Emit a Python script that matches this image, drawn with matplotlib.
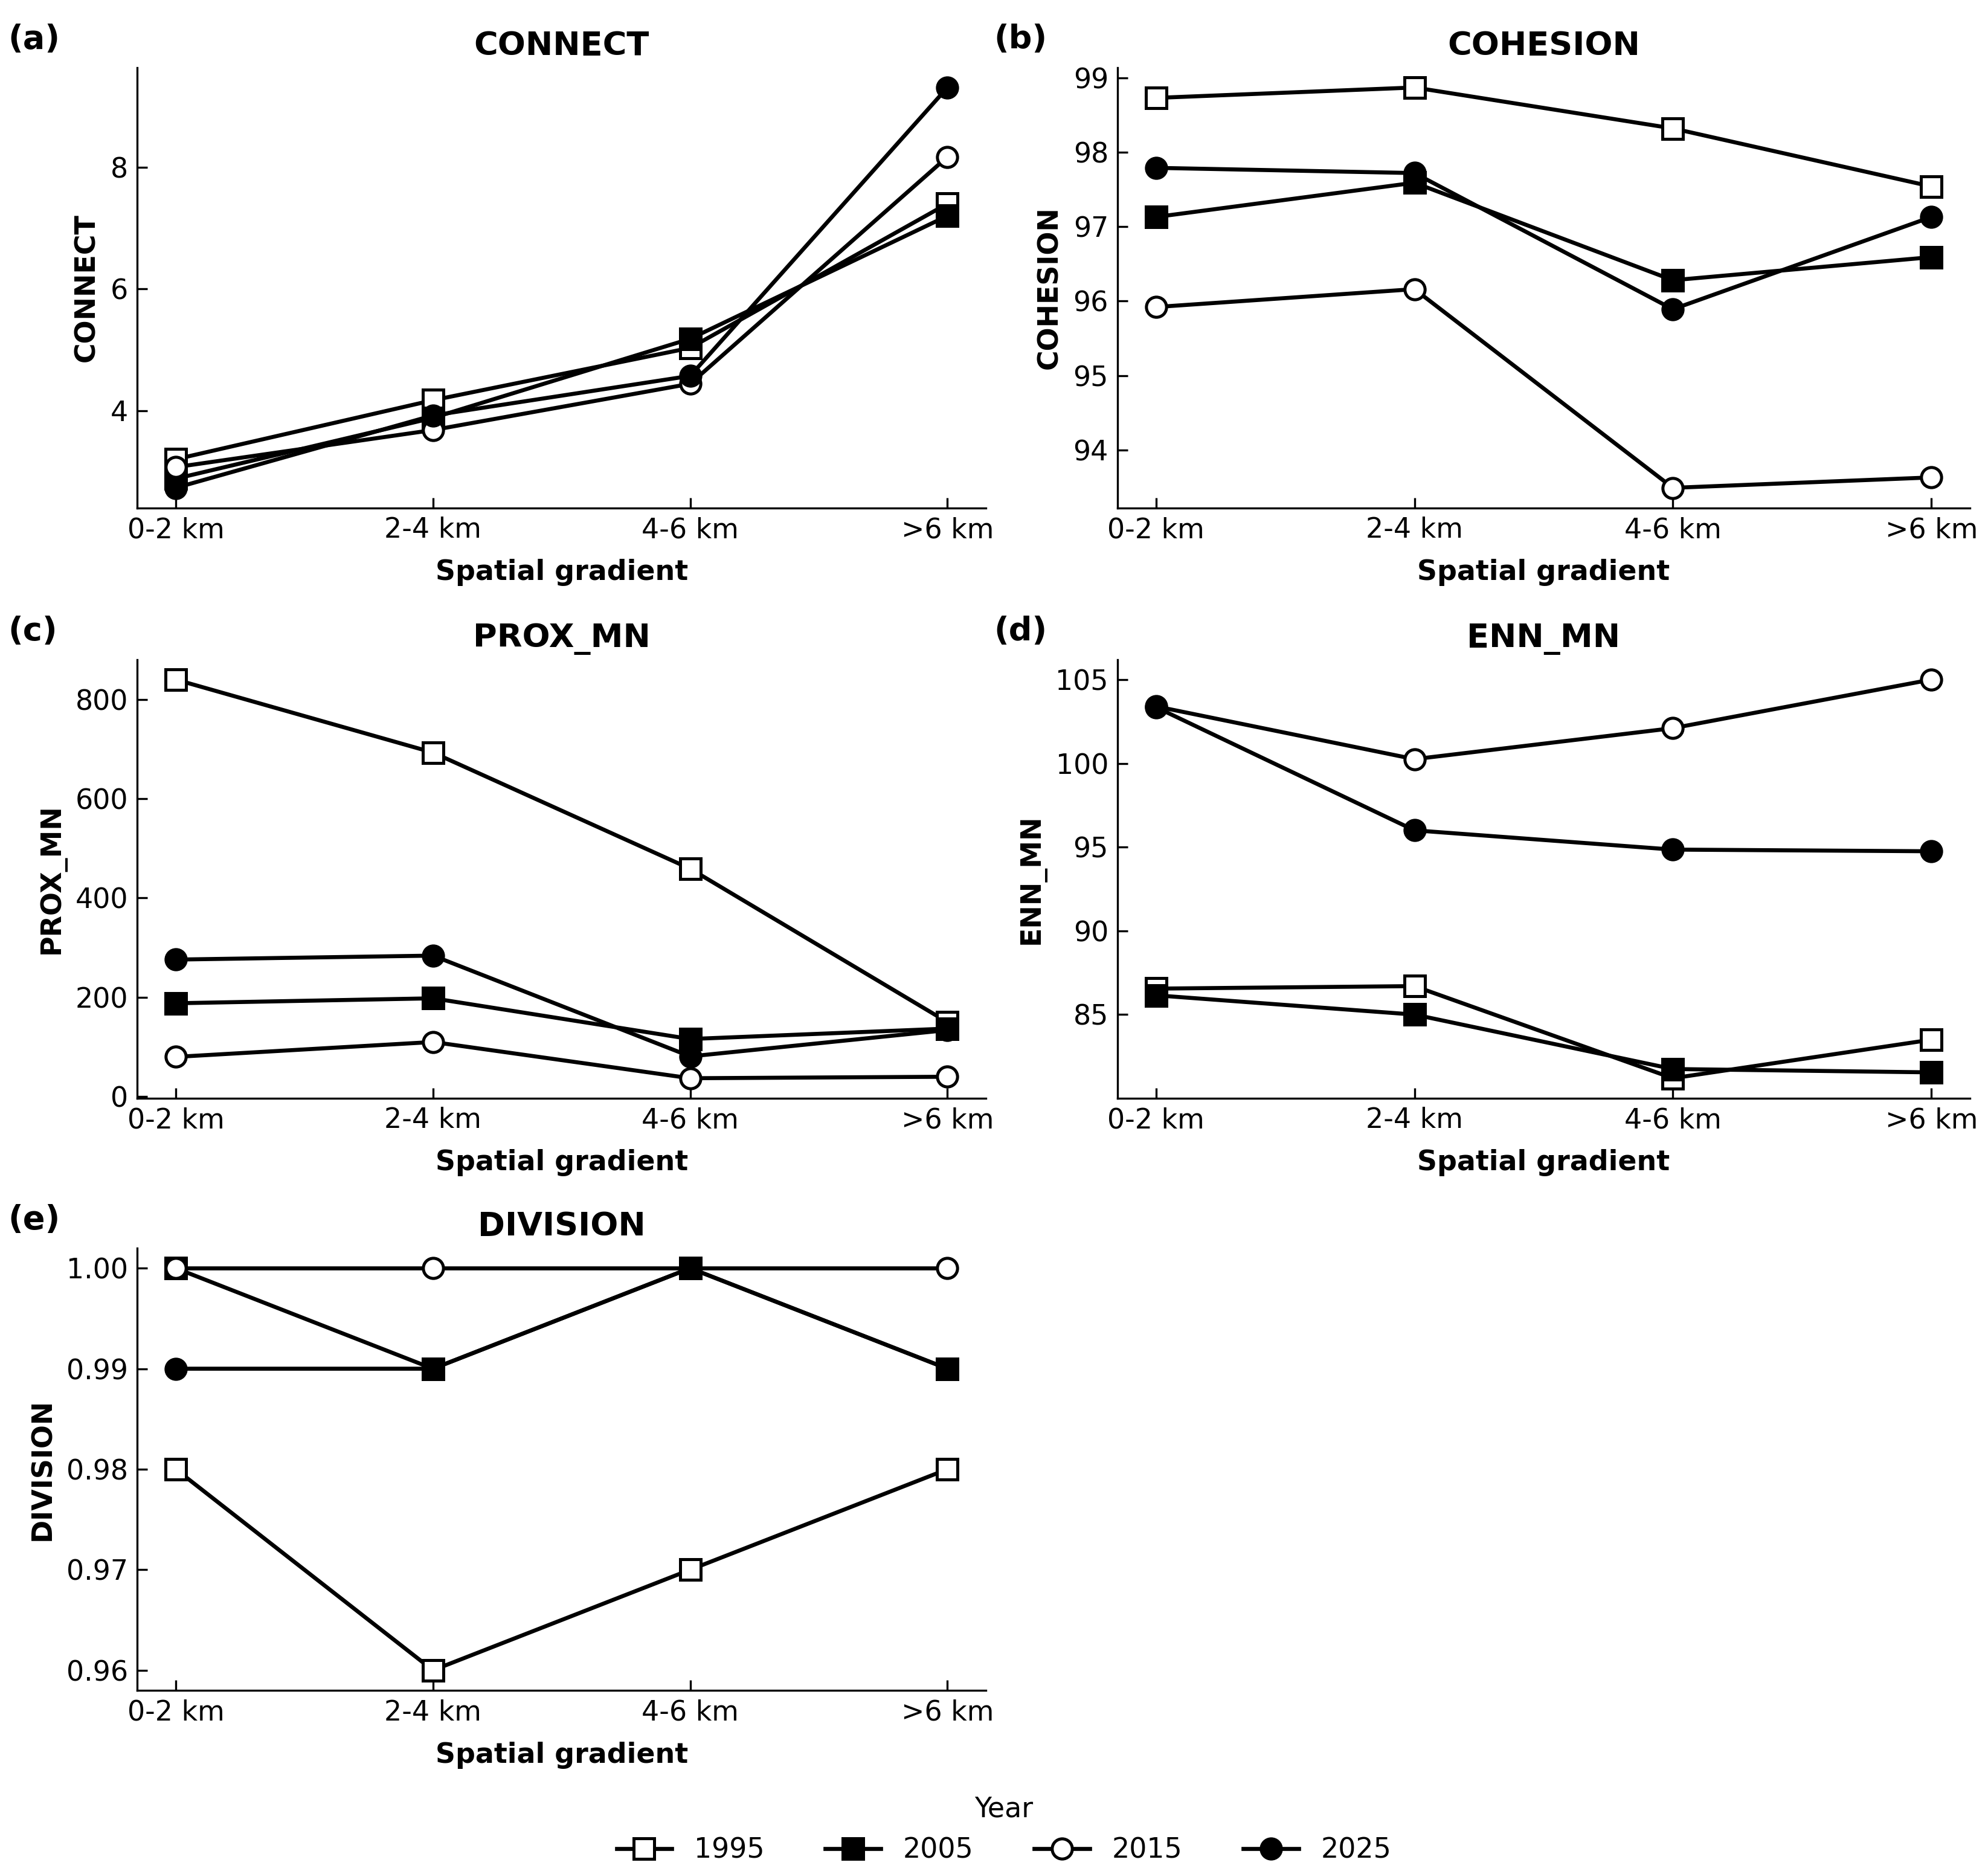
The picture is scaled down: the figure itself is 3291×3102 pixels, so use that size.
import numpy as np
import matplotlib
matplotlib.use("Agg")
import matplotlib.pyplot as plt

# gradient classes and years
zones = ["0-2 km", "2-4 km", "4-6 km", ">6 km"]
years = ["1995", "2005", "2015", "2025"]

# values
connect = {
    "1995": [3.20, 4.17, 5.03, 7.40],
    "2005": [2.88, 3.88, 5.18, 7.20],
    "2015": [3.07, 3.68, 4.44, 8.17],
    "2025": [2.73, 3.92, 4.57, 9.31],
}
cohesion = {
    "1995": [98.73, 98.87, 98.32, 97.54],
    "2005": [97.13, 97.59, 96.28, 96.59],
    "2015": [95.92, 96.16, 93.49, 93.63],
    "2025": [97.79, 97.72, 95.89, 97.13],
}
prox_mn = {
    "1995": [840, 693, 459, 150],
    "2005": [188, 198, 116, 137],
    "2015": [80, 110, 37, 40],
    "2025": [276, 284, 81, 134],
}
enn_mn = {
    "1995": [86.55, 86.70, 81.20, 83.50],
    "2005": [86.15, 85.00, 81.75, 81.55],
    "2015": [103.40, 100.25, 102.10, 105.00],
    "2025": [103.35, 96.00, 94.85, 94.75],
}
division = {
    "1995": [0.98, 0.96, 0.97, 0.98],
    "2005": [1.00, 0.99, 1.00, 0.99],
    "2015": [1.00, 1.00, 1.00, 1.00],
    "2025": [0.99, 0.99, 1.00, 0.99],
}

panels = [
    ("(a)", "CONNECT", connect, [4, 6, 8]),
    ("(b)", "COHESION", cohesion, [94, 95, 96, 97, 98, 99]),
    ("(c)", "PROX_MN", prox_mn, [0, 200, 400, 600, 800]),
    ("(d)", "ENN_MN", enn_mn, [85, 90, 95, 100, 105]),
    ("(e)", "DIVISION", division, [0.96, 0.97, 0.98, 0.99, 1.00]),
]

styles = {
    "1995": dict(marker="s", markerfacecolor="white"),
    "2005": dict(marker="s", markerfacecolor="black"),
    "2015": dict(marker="o", markerfacecolor="white"),
    "2025": dict(marker="o", markerfacecolor="black"),
}

plt.rcParams["font.family"] = "DejaVu Sans"

fig = plt.figure(figsize=(3291 / 300, 3102 / 300), dpi=300)

# axes boxes [left, bottom, width, height] in figure fractions
boxes = [
    [0.069, 0.729, 0.427, 0.235],
    [0.562, 0.729, 0.429, 0.235],
    [0.069, 0.414, 0.427, 0.234],
    [0.562, 0.414, 0.429, 0.234],
    [0.069, 0.098, 0.427, 0.236],
]

x = np.arange(len(zones))
handles = []
for (tag, name, data, yt), box in zip(panels, boxes):
    ax = fig.add_axes(box)
    for yr in years:
        ln, = ax.plot(x, data[yr], color="black", lw=1.6, markersize=8,
                      markeredgecolor="black", markeredgewidth=1.2,
                      label=yr, **styles[yr])
        if name == "CONNECT":
            handles.append(ln)
    ax.set_xticks(x)
    ax.set_xticklabels(zones)
    ax.set_yticks(yt)
    if name == "DIVISION":
        ax.yaxis.set_major_formatter(matplotlib.ticker.FormatStrFormatter("%.2f"))
    ax.tick_params(direction="in", labelsize=11, length=4, width=0.8)
    ax.spines["top"].set_visible(False)
    ax.spines["right"].set_visible(False)
    ax.set_title(name, fontsize=13, fontweight="bold", pad=5)
    ax.set_xlabel("Spatial gradient", fontsize=11, fontweight="bold", labelpad=6)
    ax.set_ylabel(name, fontsize=11, fontweight="bold")
    pos = ax.get_position()
    tx = 0.004 if box[0] < 0.1 else 0.500
    fig.text(tx, pos.y1 + 0.015, tag, fontsize=13, fontweight="bold",
             ha="left", va="center")

fig.legend(handles=handles, labels=years, loc="lower center",
           bbox_to_anchor=(0.505, -0.008), ncol=4, frameon=False, title="Year",
           fontsize=11, title_fontsize=11, handlelength=2, columnspacing=2.2)

fig.savefig("out.png", dpi=300)
